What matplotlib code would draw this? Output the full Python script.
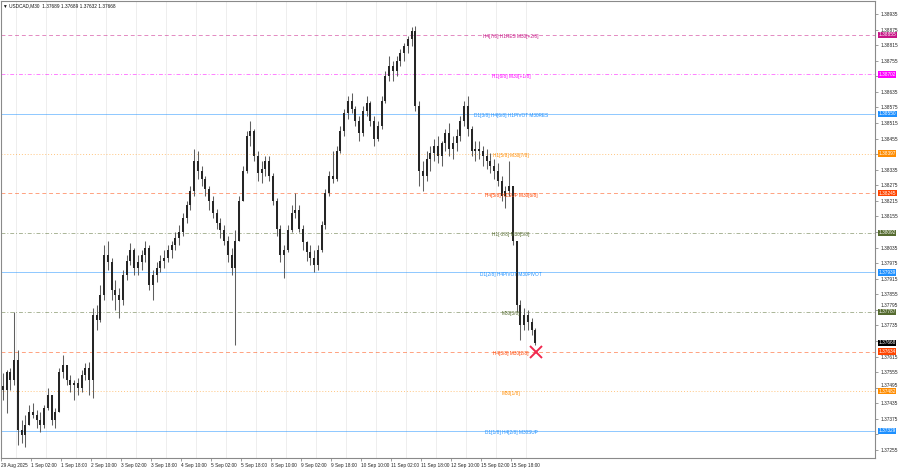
import numpy as np
import matplotlib
matplotlib.use("Agg")
import matplotlib.pyplot as plt

# ---------------- data (USDCAD M30, aggregated per 4 bars) ----------------
highs = [1.37550, 1.37562, 1.37570, 1.37785, 1.37639, 1.37370, 1.37389, 1.37428, 1.37435, 1.37408,
         1.37401, 1.37428, 1.37493, 1.37466, 1.37416, 1.37570, 1.37620, 1.37582, 1.37543, 1.37524,
         1.37532, 1.37562, 1.37589, 1.37593, 1.37801, 1.37812, 1.37889, 1.38043, 1.38062, 1.37993,
         1.37908, 1.37878, 1.37947, 1.38005, 1.38051, 1.38032, 1.38005, 1.38024, 1.38062, 1.38043,
         1.37947, 1.37978, 1.38005, 1.38024, 1.38043, 1.38062, 1.38093, 1.38120, 1.38170, 1.38216,
         1.38274, 1.38416, 1.38408, 1.38351, 1.38312, 1.38274, 1.38235, 1.38185, 1.38147, 1.38120,
         1.38081, 1.38032, 1.38101, 1.38235, 1.38351, 1.38485, 1.38524, 1.38493, 1.38408, 1.38370,
         1.38389, 1.38389, 1.38324, 1.38224, 1.38120, 1.38043, 1.38120, 1.38197, 1.38247, 1.38197,
         1.38120, 1.38062, 1.38043, 1.38024, 1.38043, 1.38139, 1.38262, 1.38331, 1.38408, 1.38427,
         1.38504, 1.38570, 1.38620, 1.38631, 1.38581, 1.38543, 1.38581, 1.38620, 1.38600, 1.38543,
         1.38524, 1.38620, 1.38716, 1.38773, 1.38754, 1.38773, 1.38800, 1.38823, 1.38850, 1.38885,
         1.38889, 1.38600, 1.38370, 1.38408, 1.38427, 1.38454, 1.38466, 1.38447, 1.38493, 1.38516,
         1.38466, 1.38493, 1.38543, 1.38600, 1.38620, 1.38504, 1.38447, 1.38447, 1.38427, 1.38416,
         1.38400, 1.38377, 1.38362, 1.38312, 1.38274, 1.38370, 1.38274, 1.38062, 1.37831, 1.37801,
         1.37793, 1.37762, 1.37724]
lows = [1.37447, 1.37397, 1.37485, 1.37505, 1.37274, 1.37282, 1.37266, 1.37351, 1.37378, 1.37339,
        1.37324, 1.37339, 1.37408, 1.37351, 1.37339, 1.37400, 1.37532, 1.37505, 1.37478, 1.37447,
        1.37466, 1.37478, 1.37524, 1.37466, 1.37455, 1.37716, 1.37747, 1.37831, 1.37947, 1.37831,
        1.37793, 1.37762, 1.37812, 1.37908, 1.37966, 1.37928, 1.37928, 1.37947, 1.37978, 1.37870,
        1.37831, 1.37901, 1.37939, 1.37955, 1.37978, 1.37993, 1.38024, 1.38043, 1.38081, 1.38131,
        1.38178, 1.38235, 1.38301, 1.38274, 1.38235, 1.38178, 1.38147, 1.38108, 1.38070, 1.38043,
        1.37978, 1.37928, 1.37658, 1.38062, 1.38216, 1.38324, 1.38427, 1.38370, 1.38293, 1.38285,
        1.38312, 1.38293, 1.38197, 1.38081, 1.37978, 1.37916, 1.38016, 1.38093, 1.38147, 1.38093,
        1.38024, 1.37985, 1.37966, 1.37939, 1.37947, 1.38016, 1.38108, 1.38235, 1.38285, 1.38293,
        1.38400, 1.38466, 1.38531, 1.38554, 1.38504, 1.38447, 1.38466, 1.38543, 1.38504, 1.38427,
        1.38447, 1.38493, 1.38593, 1.38677, 1.38677, 1.38697, 1.38735, 1.38754, 1.38785, 1.38812,
        1.38562, 1.38274, 1.38254, 1.38293, 1.38331, 1.38370, 1.38362, 1.38351, 1.38408, 1.38389,
        1.38377, 1.38408, 1.38447, 1.38504, 1.38466, 1.38389, 1.38370, 1.38377, 1.38351, 1.38339,
        1.38324, 1.38301, 1.38274, 1.38216, 1.38189, 1.38235, 1.38043, 1.37785, 1.37678, 1.37716,
        1.37716, 1.37697, 1.37658]
closes = [1.37485, 1.37554, 1.37524, 1.37601, 1.37332, 1.37312, 1.37351, 1.37401, 1.37389, 1.37370,
          1.37351, 1.37416, 1.37466, 1.37370, 1.37401, 1.37554, 1.37582, 1.37524, 1.37505, 1.37512,
          1.37493, 1.37543, 1.37570, 1.37524, 1.37774, 1.37755, 1.37851, 1.38005, 1.37978, 1.37870,
          1.37851, 1.37831, 1.37928, 1.37985, 1.38024, 1.37955, 1.37978, 1.38005, 1.38032, 1.37889,
          1.37928, 1.37955, 1.37985, 1.37993, 1.38024, 1.38043, 1.38070, 1.38093, 1.38147, 1.38197,
          1.38254, 1.38370, 1.38331, 1.38301, 1.38262, 1.38216, 1.38170, 1.38131, 1.38101, 1.38062,
          1.38005, 1.37955, 1.38062, 1.38216, 1.38331, 1.38466, 1.38485, 1.38389, 1.38324, 1.38339,
          1.38370, 1.38312, 1.38216, 1.38108, 1.38005, 1.38024, 1.38101, 1.38170, 1.38178, 1.38108,
          1.38055, 1.38016, 1.37993, 1.37966, 1.38024, 1.38120, 1.38247, 1.38312, 1.38301, 1.38408,
          1.38485, 1.38554, 1.38600, 1.38570, 1.38524, 1.38477, 1.38562, 1.38593, 1.38524, 1.38454,
          1.38504, 1.38600, 1.38697, 1.38735, 1.38716, 1.38754, 1.38785, 1.38812, 1.38839, 1.38870,
          1.38581, 1.38331, 1.38312, 1.38377, 1.38400, 1.38427, 1.38389, 1.38439, 1.38477, 1.38416,
          1.38439, 1.38466, 1.38524, 1.38581, 1.38493, 1.38408, 1.38416, 1.38408, 1.38389, 1.38370,
          1.38351, 1.38331, 1.38293, 1.38235, 1.38254, 1.38274, 1.38062, 1.37812, 1.37735, 1.37774,
          1.37747, 1.37716, 1.37668]
first_open = 1.37500

time_labels = ["29 Aug 2025", "1 Sep 02:00", "1 Sep 18:00", "2 Sep 10:00", "3 Sep 02:00",
               "3 Sep 18:00", "4 Sep 10:00", "5 Sep 02:00", "5 Sep 18:00", "8 Sep 10:00",
               "9 Sep 02:00", "9 Sep 18:00", "10 Sep 10:00", "11 Sep 02:00", "11 Sep 18:00",
               "12 Sep 10:00", "15 Sep 02:00", "15 Sep 18:00"]

level_prices = [1.38855, 1.38702, 1.38550, 1.38397, 1.38245, 1.38092,
                1.37939, 1.37787, 1.37634, 1.37482, 1.37329]
level_texts = ["H4[7/8] H1RES M30[+2/8]", "H1[6/8] M30[+1/8]",
               "D1[3/8] H4[6/8] H1PIVOT M30RES", "H1[5/8] M30[7/8]",
               "H4[5/8] H1SUP M30[6/8]", "H1[-2/8] M30[5/8]",
               "D1[2/8] H4PIVOT M30PIVOT", "M30[3/8]", "H4[3/8] M30[2/8]",
               "M30[1/8]", "D1[1/8] H4[2/8] M30SUP"]
level_colors = ["#C71585", "#FF00FF", "#1E90FF", "#FF8C00", "#FF4500", "#556B2F",
                "#1E90FF", "#556B2F", "#FF4500", "#FF8C00", "#1E90FF"]
level_styles = [(0, (4, 3)), (0, (4, 2, 1, 2)), "-", (0, (1, 2)), (0, (4, 3)), (0, (4, 2, 1, 2)),
                "-", (0, (4, 2, 1, 2)), (0, (4, 3)), (0, (1, 2)), "-"]

current_price = 1.37668
header_text = "USDCAD,M30  1.37689 1.37689 1.37632 1.37668"
# price scale labels (those hidden behind coloured price tags are left blank)
price_tick_labels = ["1.37255", "", "1.37375", "1.37435", "1.37495", "1.37555", "1.37615",
                     "", "1.37735", "1.37795", "1.37855", "1.37915", "1.37975", "1.38035",
                     "", "1.38155", "1.38215", "1.38275", "1.38335", "", "1.38455",
                     "1.38515", "1.38575", "1.38635", "", "1.38755", "1.38815", "1.38875",
                     "1.38935"]
price_tick_values = [1.37255, 1.37315, 1.37375, 1.37435, 1.37495, 1.37555, 1.37615,
                     1.37675, 1.37735, 1.37795, 1.37855, 1.37915, 1.37975, 1.38035,
                     1.38095, 1.38155, 1.38215, 1.38275, 1.38335, 1.38395, 1.38455,
                     1.38515, 1.38575, 1.38635, 1.38695, 1.38755, 1.38815, 1.38875,
                     1.38935]
# scale labels that sit right next to a price tag are nudged upward (points)
label_nudge = {"1.37795": 3.0, "1.37495": 1.6}

# ---------------- figure ----------------
W, H = 900, 468
fig = plt.figure(figsize=(W / 100, H / 100), dpi=100)
ax_left, ax_right, ax_top, ax_bot = 1, 875, 1, 458
ax = fig.add_axes([ax_left / W, (H - ax_bot) / H, (ax_right - ax_left) / W, (ax_bot - ax_top) / H])
ax.set_facecolor("white")

FONT = ["Liberation Sans", "DejaVu Sans"]
FS = 3.4

n = len(closes)
x = np.arange(n) + 0.5
opens = np.r_[first_open, closes[:-1]]
bars_per_px = 1 / 3.75
ax.set_xlim(0, (ax_right - ax_left) * bars_per_px)
ax.set_ylim(1.37224, 1.38985)

# grid
ax.set_yticks(price_tick_values[::2], minor=True)
label_pos = np.arange(len(time_labels)) * 8
ax.set_xticks(label_pos + 4, minor=True)
ax.grid(which="minor", color="#ebebeb", lw=0.6)
ax.set_axisbelow(True)

# candles
ax.vlines(x, lows, highs, color="#5f5f5f", lw=0.75, zorder=3)
body_lo = np.minimum(opens, closes)
body_h = np.maximum(np.abs(np.array(closes) - opens), 0.000015)
ax.bar(x, body_h, bottom=body_lo, width=0.5, color="#262626", lw=0, zorder=4)

# levels
px_to_price = (1.38985 - 1.37224) / (ax_bot - ax_top)
for p, t, c, ls in zip(level_prices, level_texts, level_colors, level_styles):
    ax.axhline(p, color=c, lw=0.7, ls=ls, alpha=0.5, zorder=2)
    ax.text(136, p - 2 * px_to_price, t, color=c, fontsize=FS, family=FONT,
            ha="center", va="center", zorder=5)

# red cross at last bar
ax.plot([x[-1] + 0.2], [level_prices[8]], marker="x", ms=8.5, mew=1.4, color="#F0284E",
        zorder=6, clip_on=False)

# right price axis
ax.yaxis.tick_right()
ax.set_yticks(price_tick_values)
ax.set_yticklabels([("" if s in label_nudge else s) for s in price_tick_labels])
TICK_LEN, TICK_PAD = 2.0, 1.8
ax.tick_params(axis="y", which="major", length=TICK_LEN, width=0.5, color="#777777", pad=TICK_PAD,
               labelsize=FS, labelcolor="#222222")
ax.tick_params(axis="y", which="minor", length=0)
for lab in ax.get_yticklabels():
    lab.set_family(FONT)
for v, s in zip(price_tick_values, price_tick_labels):
    if s in label_nudge:
        ax.annotate(s, xy=(1, v), xycoords=("axes fraction", "data"),
                    xytext=(TICK_LEN + TICK_PAD, label_nudge[s]), textcoords="offset points",
                    ha="left", va="center", fontsize=FS, family=FONT, color="#222222",
                    annotation_clip=False)

# bottom time axis
ax.set_xticks(label_pos)
ax.set_xticklabels(time_labels)
ax.tick_params(axis="x", which="major", length=2, width=0.5, color="#777777", pad=1.5,
               labelsize=FS, labelcolor="#222222")
ax.tick_params(axis="x", which="minor", length=0)
for lab in ax.get_xticklabels():
    lab.set_ha("left")
    lab.set_family(FONT)

for s in ax.spines.values():
    s.set_color("#8a8a8a")
    s.set_linewidth(0.8)

# coloured price labels on the axis
def price_box(p, fc, tc="white"):
    ax.annotate(f"{p:.5f}", xy=(1, p), xycoords=("axes fraction", "data"),
                xytext=(2.4, 0), textcoords="offset points", ha="left", va="center",
                fontsize=FS, family=FONT, color=tc, zorder=10, annotation_clip=False,
                bbox=dict(boxstyle="square,pad=0.15", fc=fc, ec="none"))

for p, c in zip(level_prices, level_colors):
    price_box(p, c)
price_box(current_price, "#000000")

# header
ax.text(0.002, 1 - 4.5 / (ax_bot - ax_top), "\u25BC " + header_text, transform=ax.transAxes,
        fontsize=FS, family=FONT, color="#111111", ha="left", va="center", zorder=10)

fig.savefig("out.png", dpi=100, facecolor="white")
